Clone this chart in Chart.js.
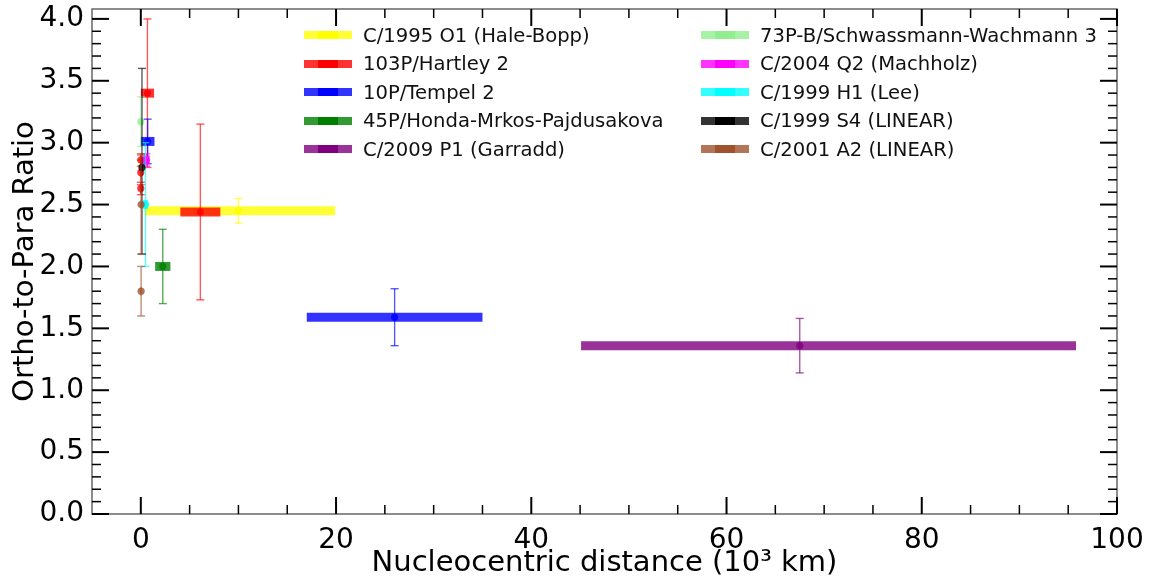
<!DOCTYPE html>
<html>
<head>
<meta charset="utf-8">
<script src="https://cdn.jsdelivr.net/npm/chart.js@4/dist/chart.umd.min.js"></script>
<style>
  html, body { margin: 0; padding: 0; background: #fff; }
  #wrap { position: relative; width: 1156px; height: 581px; }
  #legend { position: absolute; left: 304px; top: 21px; font-family: "DejaVu Sans", sans-serif;
            font-size: 19.6px; color: #111; display: grid; grid-auto-flow: column;
            grid-template-rows: repeat(5, 28.5px); grid-template-columns: 397px auto; }
  .item { display: flex; align-items: center; white-space: nowrap; }
  .sw { width: 48px; height: 8px; margin-right: 11px; flex: none; }
</style>
</head>
<body>
<div id="wrap">
  <canvas id="c" width="1156" height="581"></canvas>
  <div id="legend"></div>
</div>
<script>
// Comets and their plotting colours (r, g, b)
const comets = [
  'C/1995 O1 (Hale-Bopp)', '103P/Hartley 2', '10P/Tempel 2',
  '45P/Honda-Mrkos-Pajdusakova', 'C/2009 P1 (Garradd)',
  '73P-B/Schwassmann-Wachmann 3', 'C/2004 Q2 (Machholz)', 'C/1999 H1 (Lee)',
  'C/1999 S4 (LINEAR)', 'C/2001 A2 (LINEAR)'
];
const cometRGB = [
  [255, 255, 0], [255, 0, 0], [0, 0, 255], [0, 128, 0], [128, 0, 128],
  [144, 238, 144], [255, 0, 255], [0, 255, 255], [0, 0, 0], [160, 82, 45]
];

// Measurements: comet index, nucleocentric distance (10^3 km) with range,
// ortho-to-para ratio with uncertainty
const obsComet  = [0,    1,    1,    1,    1,    1,    2,    2,    3,    4,     5,    6,    7,    8,    9,    9];
const obsDist   = [10.0, 6.1,  0.68, 0.0,  0.0,  0.0,  26.0, 0.7,  2.25, 67.5,  0.0,  0.57, 0.48, 0.12, 0.03, 0.03];
const obsDistLo = [9.6,  2.05, 0.68, 0.1,  0.1,  0.1,  9.0,  0.7,  0.78, 22.4,  0.05, 0.34, 0.25, 0.05, 0.05, 0.05];
const obsDistHi = [9.9,  2.05, 0.68, 0.1,  0.1,  0.1,  9.0,  0.7,  0.78, 28.3,  0.05, 0.34, 0.25, 0.05, 0.05, 0.05];
const obsOpr    = [2.45, 2.44, 3.40, 2.86, 2.76, 2.63, 1.59, 3.01, 2.00, 1.36,  3.17, 2.86, 2.50, 2.80, 2.50, 1.80];
const obsOprLo  = [0.10, 0.71, 0.60, 0.05, 0.10, 0.05, 0.23, 0.18, 0.30, 0.22,  0.20, 0.05, 0.50, 0.70, 0.40, 0.20];
const obsOprHi  = [0.10, 0.71, 0.60, 0.05, 0.10, 0.05, 0.23, 0.18, 0.30, 0.22,  0.20, 0.05, 0.50, 0.80, 0.40, 0.20];

// Axis ticks
const xMajorTicks = [0, 20, 40, 60, 80, 100];
const xMinorTicks = [5, 10, 15, 25, 30, 35, 45, 50, 55, 65, 70, 75, 85, 90, 95];
const yMajorTicks = [0, 0.5, 1.0, 1.5, 2.0, 2.5, 3.0, 3.5, 4.0];
const yMinorTicks = [0.1, 0.2, 0.3, 0.4, 0.6, 0.7, 0.8, 0.9, 1.1, 1.2, 1.3, 1.4, 1.6, 1.7, 1.8, 1.9,
                     2.1, 2.2, 2.3, 2.4, 2.6, 2.7, 2.8, 2.9, 3.1, 3.2, 3.3, 3.4, 3.6, 3.7, 3.8, 3.9];

const FONT = '"DejaVu Sans", sans-serif';
const rgba = (c, a) => `rgba(${c[0]},${c[1]},${c[2]},${a})`;

// Build datasets: thick horizontal range bar, thin vertical error bar with caps, centre point
const datasets = [];
let seq = 0;
for (let i = 0; i < obsComet.length; i++) {
  const c = cometRGB[obsComet[i]];
  const x = obsDist[i], y = obsOpr[i];
  datasets.push({
    type: 'line', order: 1000 - (seq++),
    data: [{x: x - obsDistLo[i], y: y}, {x: x + obsDistHi[i], y: y}],
    borderColor: rgba(c, 0.8), borderWidth: 9, borderCapStyle: 'butt',
    pointRadius: 0, showLine: true, fill: false
  });
  datasets.push({
    type: 'line', order: 1000 - (seq++),
    data: [{x: x, y: y - obsOprLo[i]}, {x: x, y: y + obsOprHi[i]}],
    borderColor: rgba(c, 0.65), borderWidth: 1.4, showLine: true, fill: false,
    pointStyle: 'line', pointRadius: 4, pointBorderWidth: 1.4,
    pointBorderColor: rgba(c, 0.65)
  });
  datasets.push({
    type: 'scatter', order: 1000 - (seq++),
    data: [{x: x, y: y}],
    backgroundColor: rgba(c, 0.8), borderWidth: 0, pointRadius: 3.6
  });
}

// Inward-pointing ticks on all four sides plus the frame
const frameTicks = {
  id: 'frameTicks',
  afterDatasetsDraw(chart) {
    const {ctx, chartArea: a, scales: {x, y}} = chart;
    ctx.save();
    ctx.strokeStyle = '#000';
    const tick = (x0, y0, x1, y1, w) => {
      ctx.lineWidth = w; ctx.beginPath(); ctx.moveTo(x0, y0); ctx.lineTo(x1, y1); ctx.stroke();
    };
    xMajorTicks.forEach(v => { const p = x.getPixelForValue(v);
      tick(p, a.bottom, p, a.bottom - 17, 2); tick(p, a.top, p, a.top + 17, 2); });
    xMinorTicks.forEach(v => { const p = x.getPixelForValue(v);
      tick(p, a.bottom, p, a.bottom - 9, 1.5); tick(p, a.top, p, a.top + 9, 1.5); });
    yMajorTicks.forEach(v => { const p = y.getPixelForValue(v);
      tick(a.left, p, a.left + 17, p, 2); tick(a.right, p, a.right - 17, p, 2); });
    yMinorTicks.forEach(v => { const p = y.getPixelForValue(v);
      tick(a.left, p, a.left + 9, p, 1.5); tick(a.right, p, a.right - 9, p, 1.5); });
    ctx.strokeStyle = 'rgba(0,0,0,0.6)';
    ctx.lineWidth = 1.5;
    ctx.strokeRect(a.left, a.top, a.right - a.left, a.bottom - a.top);
    ctx.restore();
  }
};

new Chart(document.getElementById('c'), {
  type: 'scatter',
  data: { datasets },
  plugins: [frameTicks],
  options: {
    responsive: false, animation: false, clip: false,
    layout: { padding: { top: 9, right: 39, left: 0, bottom: 0 } },
    plugins: { legend: { display: false }, tooltip: { enabled: false } },
    scales: {
      x: {
        type: 'linear', min: -5, max: 100, position: 'bottom',
        afterBuildTicks: s => { s.ticks = xMajorTicks.map(v => ({ value: v })); },
        afterFit: s => { s.height = 67; s.paddingLeft = 0; s.paddingRight = 0; },
        ticks: { color: '#000', font: { family: FONT, size: 28 }, padding: 10, maxRotation: 0, autoSkip: false },
        grid: { display: false, drawTicks: false }, border: { display: false },
        title: { display: true, text: 'Nucleocentric distance (10³ km)', color: '#000',
                 font: { family: FONT, size: 29 }, padding: { top: 0, bottom: 0 } }
      },
      y: {
        type: 'linear', min: 0, max: 4.08,
        afterBuildTicks: s => { s.ticks = yMajorTicks.map(v => ({ value: v })); },
        afterFit: s => { s.width = 92; s.paddingTop = 0; s.paddingBottom = 0; },
        ticks: { color: '#000', font: { family: FONT, size: 28 }, padding: 8,
                 callback: v => Number(v).toFixed(1) },
        grid: { display: false, drawTicks: false }, border: { display: false },
        title: { display: true, text: 'Ortho-to-Para Ratio', color: '#000',
                 font: { family: FONT, size: 29 }, padding: { top: 8, bottom: 0 } }
      }
    }
  }
});

// Legend: two columns, five entries each
const legend = document.getElementById('legend');
comets.forEach((name, i) => {
  const c = cometRGB[i];
  const item = document.createElement('div');
  item.className = 'item';
  const sw = document.createElement('span');
  sw.className = 'sw';
  sw.style.background = `linear-gradient(to right, ${rgba(c, 0.8)} 0 30%, ${rgba(c, 1)} 30% 70%, ${rgba(c, 0.8)} 70% 100%)`;
  const label = document.createElement('span');
  label.textContent = name;
  item.appendChild(sw);
  item.appendChild(label);
  legend.appendChild(item);
});
</script>
</body>
</html>
